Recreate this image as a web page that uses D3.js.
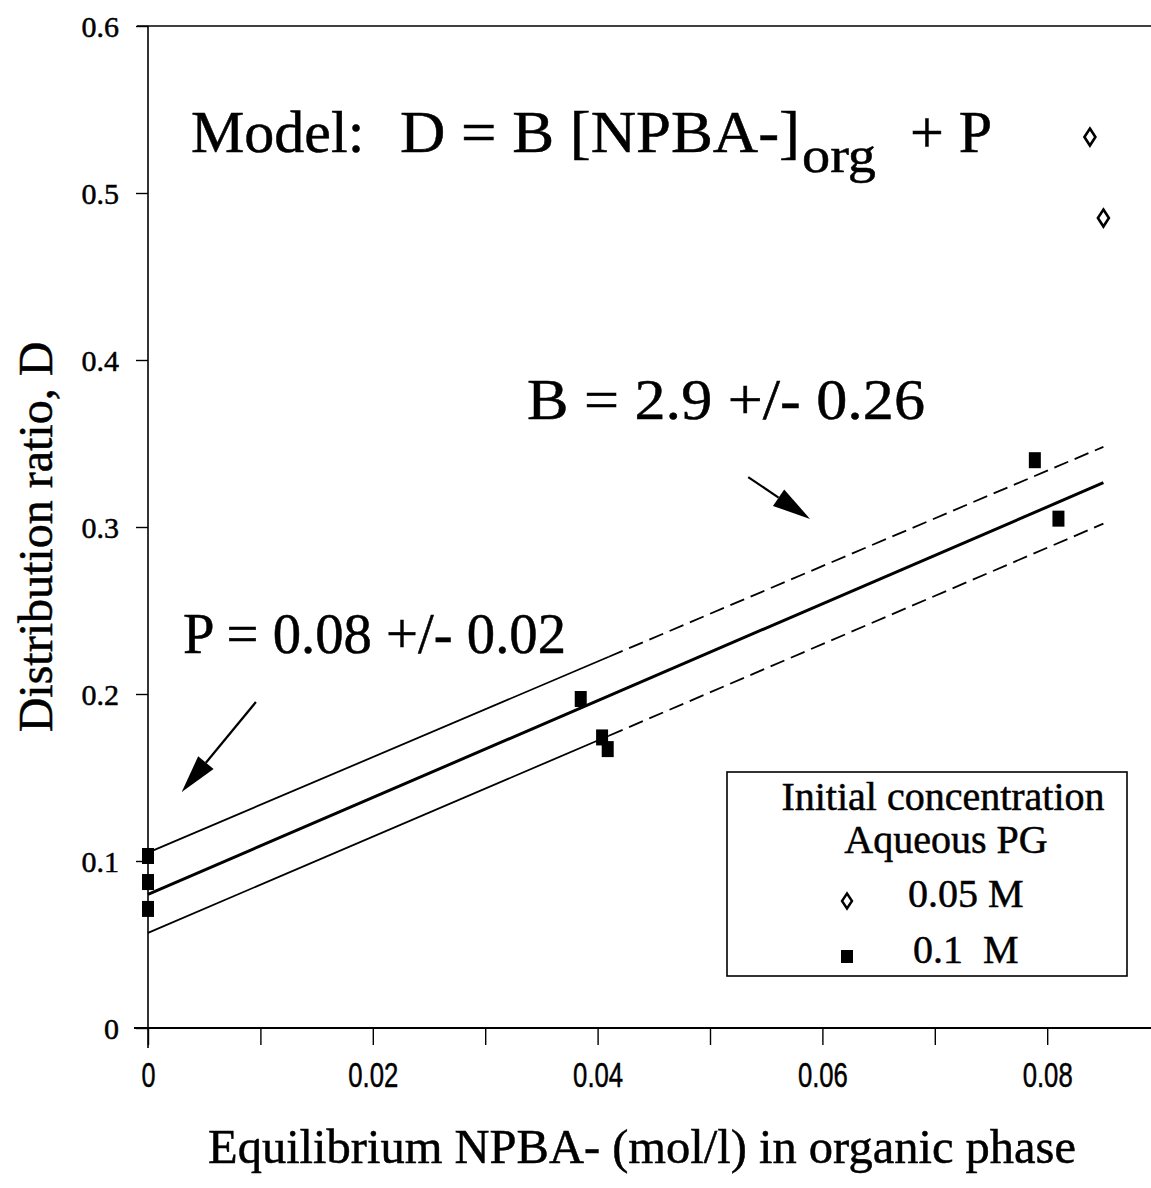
<!DOCTYPE html>
<html>
<head>
<meta charset="utf-8">
<script src="https://cdn.jsdelivr.net/npm/d3@7"></script>
<style>
  body { margin: 0; background: #fff; }
  svg text { font-family: "Liberation Serif", "Times New Roman", serif; fill: #000; stroke: #000; stroke-width: 0.5px; }
</style>
</head>
<body>
<div id="chart"></div>
<script>
// measured points, 0.1 M initial PG (filled squares)
const sqX = [0, 0, 0, 0.0385, 0.0404, 0.0409, 0.0789, 0.0810];
const sqD = [0.103, 0.0874, 0.0713, 0.197, 0.174, 0.167, 0.340, 0.305];

// 0.05 M initial PG (open diamonds)
const diaX = [0.0838, 0.0850];
const diaD = [0.5335, 0.485];

// fitted line D = B x + P and its confidence bands
const fitX = [0, 0.085];
const fitD = [0.080, 0.3265];
const bandX = [0, 0.041, 0.085];
const upperD = [0.105, 0.2223, 0.348];
const lowerD = [0.057, 0.175, 0.302];

const xTicks = [0, 0.01, 0.02, 0.03, 0.04, 0.05, 0.06, 0.07, 0.08];
const xTickLabels = ['0', '', '0.02', '', '0.04', '', '0.06', '', '0.08'];
const yTicks = [0, 0.1, 0.2, 0.3, 0.4, 0.5, 0.6];

// annotation arrows, [x0, d0, x1, d1] in data units (tip at the end)
const arrows = [
    [0.0534, 0.3299, 0.0589, 0.3048],
    [0.0096, 0.1952, 0.0030, 0.1413]
];

const width = 1151, height = 1188;
const svg = d3.select('#chart').append('svg')
    .attr('width', width)
    .attr('height', height);

const x = d3.scaleLinear().domain([0, 0.09]).range([148, 1159.6]);
const y = d3.scaleLinear().domain([0, 0.6]).range([1028, 26]);

// frame: top line (left/bottom come from axes)
svg.append('line')
    .attr('x1', 137).attr('x2', width)
    .attr('y1', y(0.6)).attr('y2', y(0.6))
    .attr('stroke', '#000').attr('stroke-width', 1.6);

// x axis
const xAxis = svg.append('g')
    .attr('transform', `translate(0,${y(0)})`)
    .call(d3.axisBottom(x).tickValues(xTicks).tickSize(17).tickFormat((d, i) => xTickLabels[i]));
xAxis.attr('font-size', null).attr('font-family', null);
xAxis.select('.domain').attr('d', `M134,0H${width}`).attr('stroke-width', 1.8);
xAxis.selectAll('.tick line').attr('stroke-width', 1.4);
xAxis.selectAll('.tick text')
    .attr('y', 34)
    .attr('dy', '0.72em')
    .attr('textLength', d => d === 0 ? 14 : 50)
    .attr('lengthAdjust', 'spacingAndGlyphs')
    .style('font-family', '"Liberation Sans", Arial, sans-serif')
    .style('font-size', '35px');

// y axis
const yAxis = svg.append('g')
    .attr('transform', `translate(${x(0)},0)`)
    .call(d3.axisLeft(y).tickValues(yTicks).tickSize(12).tickFormat(d => d === 0 ? '0' : d3.format('.1f')(d)));
yAxis.attr('font-size', null).attr('font-family', null);
yAxis.select('.domain').attr('d', `M0,${y(0.6)}V${y(0) + 20}`).attr('stroke-width', 1.6);
yAxis.selectAll('.tick line').attr('stroke-width', 1.4);
yAxis.selectAll('.tick text')
    .attr('x', -29)
    .attr('dy', '0.34em')
    .style('font-family', '"Liberation Serif", "Times New Roman", serif')
    .style('font-size', '30px');

// fit lines
const line = d3.line().x(d => x(d[0])).y(d => y(d[1]));

svg.append('path')
    .datum(fitX.map((v, i) => [v, fitD[i]]))
    .attr('d', line)
    .attr('fill', 'none').attr('stroke', '#000').attr('stroke-width', 3);

[upperD, lowerD].forEach(band => {
    const pts = bandX.map((v, i) => [v, band[i]]);
    svg.append('path')
        .datum(pts.slice(0, 2))
        .attr('d', line)
        .attr('fill', 'none').attr('stroke', '#000').attr('stroke-width', 1.8);
    svg.append('path')
        .datum(pts.slice(1))
        .attr('d', line)
        .attr('fill', 'none').attr('stroke', '#000').attr('stroke-width', 1.8)
        .attr('stroke-dasharray', '15,7');
});

// squares
svg.append('g').selectAll('rect')
    .data(sqX.map((v, i) => [v, sqD[i]]))
    .enter().append('rect')
    .attr('x', d => x(d[0]) - 6)
    .attr('y', d => y(d[1]) - 8)
    .attr('width', 12).attr('height', 16)
    .attr('fill', '#000');

// diamonds
const diamond = (cx, cy, w, h) => `M${cx},${cy - h / 2}L${cx + w / 2},${cy}L${cx},${cy + h / 2}L${cx - w / 2},${cy}Z`;
svg.append('g').selectAll('path')
    .data(diaX.map((v, i) => [v, diaD[i]]))
    .enter().append('path')
    .attr('d', d => diamond(x(d[0]), y(d[1]), 11, 17))
    .attr('fill', '#fff').attr('stroke', '#000').attr('stroke-width', 2.6);

// arrows
arrows.forEach(a => {
    const x0 = x(a[0]), y0 = y(a[1]), x1 = x(a[2]), y1 = y(a[3]);
    const ang = Math.atan2(y1 - y0, x1 - x0);
    const len = 38, half = 10;
    const bx = x1 - len * Math.cos(ang), by = y1 - len * Math.sin(ang);
    svg.append('line')
        .attr('x1', x0).attr('y1', y0).attr('x2', bx).attr('y2', by)
        .attr('stroke', '#000').attr('stroke-width', 2.2);
    svg.append('path')
        .attr('d', `M${x1},${y1}L${bx - half * Math.sin(ang)},${by + half * Math.cos(ang)}L${bx + half * Math.sin(ang)},${by - half * Math.cos(ang)}Z`)
        .attr('fill', '#000');
});

// model equation
const eq = svg.append('g').style('font-size', '60px');
eq.append('text').attr('x', 191).attr('y', 152).text('Model:');
eq.append('text').attr('x', 400).attr('y', 152)
    .attr('textLength', 400).attr('lengthAdjust', 'spacingAndGlyphs')
    .text('D = B [NPBA-]');
eq.append('text').attr('x', 802).attr('y', 172)
    .attr('textLength', 74).attr('lengthAdjust', 'spacingAndGlyphs')
    .style('font-size', '50px').text('org');
eq.append('text').attr('x', 910).attr('y', 152).text('+ P');

svg.append('text').attr('x', 527).attr('y', 419)
    .attr('textLength', 398).attr('lengthAdjust', 'spacingAndGlyphs')
    .style('font-size', '58px')
    .text('B = 2.9 +/- 0.26');

svg.append('text').attr('x', 183).attr('y', 653)
    .attr('textLength', 383).attr('lengthAdjust', 'spacingAndGlyphs')
    .style('font-size', '56px')
    .text('P = 0.08 +/- 0.02');

// legend
const lg = svg.append('g');
lg.append('rect')
    .attr('x', 727).attr('y', 772).attr('width', 400).attr('height', 204)
    .attr('fill', '#fff').attr('stroke', '#000').attr('stroke-width', 1.6);
lg.append('text').attr('x', 943).attr('y', 810).attr('text-anchor', 'middle')
    .style('font-size', '40px').text('Initial concentration');
lg.append('text').attr('x', 946).attr('y', 853).attr('text-anchor', 'middle')
    .style('font-size', '40px').text('Aqueous PG');
lg.append('path').attr('d', diamond(847, 901, 10, 15))
    .attr('fill', '#fff').attr('stroke', '#000').attr('stroke-width', 2.4);
lg.append('text').attr('x', 908).attr('y', 907).style('font-size', '40px').text('0.05 M');
lg.append('rect').attr('x', 841).attr('y', 950).attr('width', 12).attr('height', 13).attr('fill', '#000');
lg.append('text').attr('x', 913).attr('y', 963).style('font-size', '40px')
    .style('white-space', 'pre').text('0.1  M');

// axis titles
svg.append('text')
    .attr('x', 642).attr('y', 1163)
    .attr('text-anchor', 'middle')
    .style('font-size', '48.5px')
    .text('Equilibrium NPBA- (mol/l) in organic phase');

svg.append('text')
    .attr('transform', 'translate(52,537) rotate(-90)')
    .attr('text-anchor', 'middle')
    .style('font-size', '48px')
    .text('Distribution ratio, D');
</script>
</body>
</html>
